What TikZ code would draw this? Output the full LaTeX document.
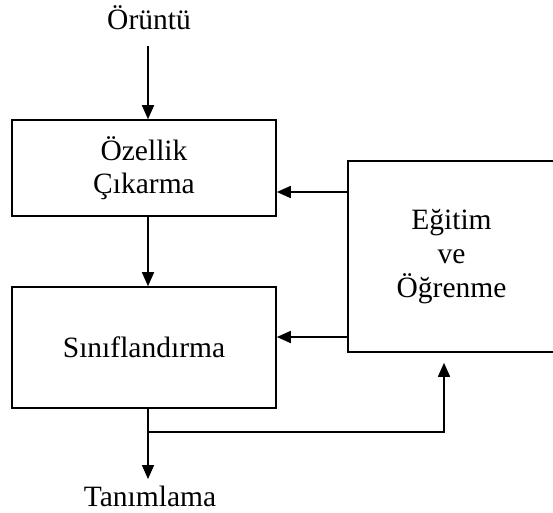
\documentclass[tikz,border=0pt]{standalone}
\usepackage{fontspec}
\setmainfont{Liberation Serif}
\usetikzlibrary{arrows.meta,calc}
\begin{document}
\begin{tikzpicture}[x=1pt,y=-1pt,
  line width=1.6pt,
  txt/.style={font=\fontsize{29.5}{33}\selectfont, align=center, inner sep=0pt},
  blk/.style={draw, rectangle, txt},
  arr/.style={-{Triangle[length=14pt,width=12pt]}}]
\useasboundingbox (0,0) rectangle (553,512);
\node[txt] (oruntu) at (149,18) {Örüntü};
\node[blk, minimum width=264pt, minimum height=96pt] (ozellik) at (144,168) {Özellik\\Çıkarma};
\node[blk, minimum width=264pt, minimum height=121pt] (sinif) at (144,347.5) {Sınıflandırma};
\node[blk, minimum width=207pt, minimum height=191pt, font=\fontsize{29.5}{34}\selectfont] (egitim) at (451.5,256.5) {Eğitim\\ve\\Öğrenme};
\node[txt] (tanim) at (150,496) {Tanımlama};
\coordinate (ax) at (148,0);
\coordinate (top) at (148,46);
\coordinate (ya) at (0,192);
\coordinate (yb) at (0,337);
\coordinate (yc) at (0,432);
\coordinate (bx) at (444,0);
\coordinate (bot) at (148,479);
\draw[arr] (top) -- (ax |- ozellik.north);
\draw[arr] (ax |- ozellik.south) -- (ax |- sinif.north);
\draw[arr] (egitim.west |- ya) -- (ozellik.east |- ya);
\draw[arr] (egitim.west |- yb) -- (sinif.east |- yb);
\draw[arr] (ax |- sinif.south) -- (bot);
\draw[arr, shorten >=10pt] (ax |- yc) -| (bx |- egitim.south);
\end{tikzpicture}
\end{document}
